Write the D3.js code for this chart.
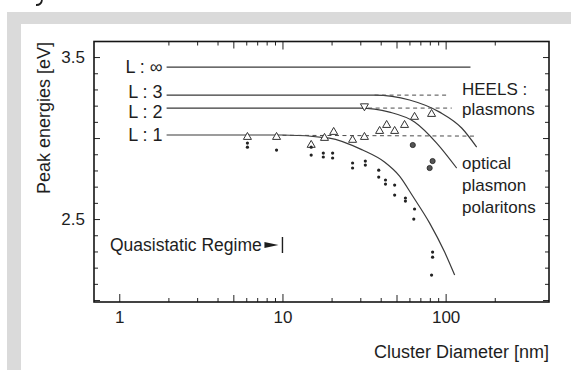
<!DOCTYPE html>
<html>
<head>
<meta charset="utf-8">
<script src="https://cdn.jsdelivr.net/npm/d3@7"></script>
<style>
  html, body { margin: 0; padding: 0; background: #fff; }
  svg { display: block; }
  text { font-family: "Liberation Sans", Arial, Helvetica, sans-serif; fill: #1e1e1e; }
</style>
</head>
<body>
<svg id="chart" width="571" height="370"></svg>
<script>
// ---- data ----
const xTickValues = [1,2,3,4,5,6,7,8,9,10,20,30,40,50,60,70,80,90,100,200];
const xTickLabels = {1: "1", 10: "10", 100: "100"};
const yTickValues = d3.range(20, 36).map(v => v / 10);
const yTickLabels = {2.5: "2.5", 3.5: "3.5"};

const levelLabels = ["L : \u221E", "L : 3", "L : 2", "L : 1"];
const levelEnergies = [3.438, 3.265, 3.185, 3.019];

// dispersion curves: [diameter nm, energy eV]
const curveLinf = [[1.95, 3.438], [142, 3.438]];
const curveL3 = [[1.95, 3.265], [36.7, 3.265], [60.1, 3.235], [91.9, 3.160], [125.4, 3.062], [155, 2.944]];
const curveL2 = [[1.95, 3.185], [29.7, 3.185], [45.3, 3.160], [64.5, 3.099], [88.1, 2.969], [116.8, 2.815]];
const curveL1 = [[1.95, 3.019], [10, 3.019], [19.4, 3.0], [31, 2.926], [42.2, 2.852], [52.2, 2.765], [62.8, 2.642], [79.8, 2.475], [98.6, 2.296], [113.6, 2.154]];

// HEELS plasmon levels (dashed)
const dashL3 = [[36.7, 3.265], [103, 3.265]];
const dashL2 = [[33.5, 3.185], [109, 3.185]];
const dashL1 = [[10, 3.017], [155, 3.012]];

// HEELS peaks (open triangles)
const triD = [6.1, 9.2, 15.0, 18.1, 20.6, 26.9, 31.8, 39.4, 43.5, 48.7, 56.0, 64.5, 82.0];
const triE = [3.006, 3.006, 2.957, 3.0, 3.037, 2.988, 3.006, 3.043, 3.08, 3.043, 3.08, 3.13, 3.148];
const invTriD = [31.8];
const invTriE = [3.197];

// optical peaks (small dots)
const dotD = [6.1, 6.1, 9.2, 15.0, 15.0, 17.8, 17.8, 20.3, 20.3, 26.9, 26.9, 32.2, 32.2, 38.9, 38.9, 42.8, 42.8, 48.7, 48.7, 56.7, 56.7, 64.5, 63.8, 83.2, 83.2, 82.0];
const dotE = [2.969, 2.944, 2.926, 2.944, 2.895, 2.907, 2.883, 2.907, 2.877, 2.846, 2.815, 2.858, 2.833, 2.802, 2.759, 2.741, 2.716, 2.710, 2.648, 2.630, 2.611, 2.562, 2.5, 2.296, 2.265, 2.154];
// optical peaks (larger dots)
const bigDotD = [62.9, 79.8, 83.2];
const bigDotE = [2.957, 2.815, 2.858];

// ---- drawing ----
const svg = d3.select("#chart");

// page frame
svg.append("rect").attr("x", 7).attr("y", 12).attr("width", 564).attr("height", 358).attr("fill", "#dadada");
svg.append("rect").attr("x", 21).attr("y", 24).attr("width", 550).attr("height", 346).attr("fill", "#fff");
// descender of the caption line above the frame
svg.append("path").attr("d", "M42,0 C41.5,3 40,5.2 36,5")
  .attr("fill", "none").attr("stroke", "#1e1e1e").attr("stroke-width", 1.8);

const x = d3.scaleLog().domain([0.7, 430]).range([94, 549]);
const y = d3.scaleLinear().domain([1.988, 3.596]).range([302, 41.5]);
const [x0, x1] = x.range();
const [y0, y1] = y.range();

const lenX = v => (v === 1 || v === 10 || v === 100) ? 8 : (v === 5 || v === 50) ? 7 : 4;
const lenY = v => (Math.abs(v * 10 % 5) < 1e-6) ? 6 : 4;

function styleTicks(g, lenFn, dir) {
  g.select(".domain").remove();
  g.selectAll(".tick line").attr("stroke", "#222").attr("stroke-width", 1)
    .each(function(d) {
      const l = lenFn(d) * dir;
      const ln = d3.select(this);
      if (ln.attr("y2") !== null && +ln.attr("y2") !== 0) ln.attr("y2", l);
      else ln.attr("x2", l);
    });
  g.selectAll(".tick text").attr("font-size", 17).attr("fill", "#1e1e1e");
}

// bottom axis
svg.append("g").attr("transform", `translate(0,${y0})`)
  .call(d3.axisBottom(x).tickValues(xTickValues).tickSize(-4).tickPadding(9)
    .tickFormat(d => xTickLabels[d] || ""))
  .call(g => styleTicks(g, lenX, -1));

// top axis
svg.append("g").attr("transform", `translate(0,${y1})`)
  .call(d3.axisTop(x).tickValues(xTickValues.filter(v => v > 1)).tickSize(-4).tickFormat(""))
  .call(g => styleTicks(g, lenX, 1));

// left axis
svg.append("g").attr("transform", `translate(${x0},0)`)
  .call(d3.axisLeft(y).tickValues(yTickValues).tickSize(-4).tickPadding(9)
    .tickFormat(d => yTickLabels[d] || ""))
  .call(g => styleTicks(g, lenY, 1));

// right axis
svg.append("g").attr("transform", `translate(${x1},0)`)
  .call(d3.axisRight(y).tickValues(yTickValues).tickSize(-4).tickFormat(""))
  .call(g => styleTicks(g, lenY, -1));

// plot frame
svg.append("rect").attr("x", x0).attr("y", y1).attr("width", x1 - x0).attr("height", y0 - y1)
  .attr("fill", "none").attr("stroke", "#151515").attr("stroke-width", 1.6);

const line = d3.line().x(d => x(d[0])).y(d => y(d[1])).curve(d3.curveMonotoneX);

// theory curves
[curveLinf, curveL3, curveL2, curveL1].forEach(c => {
  svg.append("path").attr("d", line(c)).attr("fill", "none")
    .attr("stroke", "#3a3a3a").attr("stroke-width", 1.2);
});

// HEELS levels
[dashL3, dashL2, dashL1].forEach(c => {
  svg.append("path").attr("d", d3.line().x(d => x(d[0])).y(d => y(d[1]))(c))
    .attr("fill", "none").attr("stroke", "#4a4a4a").attr("stroke-width", 1)
    .attr("stroke-dasharray", "4 3.5");
});

// level labels
const labelDy = [0, -3, 4, 0];
levelLabels.forEach((t, i) => {
  svg.append("text").attr("x", x(1.95) - 4).attr("y", y(levelEnergies[i]) + labelDy[i])
    .attr("text-anchor", "end").attr("dominant-baseline", "central")
    .attr("font-size", 18).text(t);
});

// markers
const tri = d3.symbol().type(d3.symbolTriangle).size(28);
svg.append("g").selectAll("path").data(triD).join("path")
  .attr("d", tri)
  .attr("transform", (d, i) => `translate(${x(d)},${y(triE[i])})`)
  .attr("fill", "#fff").attr("stroke", "#333").attr("stroke-width", 1);
svg.append("g").selectAll("path").data(invTriD).join("path")
  .attr("d", tri)
  .attr("transform", (d, i) => `translate(${x(d)},${y(invTriE[i])}) rotate(180)`)
  .attr("fill", "#fff").attr("stroke", "#333").attr("stroke-width", 1);
svg.append("g").selectAll("circle").data(dotD).join("circle")
  .attr("cx", d => x(d)).attr("cy", (d, i) => y(dotE[i])).attr("r", 1.6)
  .attr("fill", "#222");
svg.append("g").selectAll("circle").data(bigDotD).join("circle")
  .attr("cx", d => x(d)).attr("cy", (d, i) => y(bigDotE[i])).attr("r", 2.6)
  .attr("fill", "#555").attr("stroke", "#222").attr("stroke-width", 0.8);

// annotations
const notes = [["HEELS :", 89], ["plasmons", 109], ["optical", 163], ["plasmon", 185], ["polaritons", 207]];
notes.forEach(([t, ty]) => {
  svg.append("text").attr("x", 462).attr("y", ty).attr("dominant-baseline", "central")
    .attr("font-size", 17).text(t);
});

// quasistatic regime marker (ends at 10 nm)
const qy = 245;
svg.append("text").attr("x", 110).attr("y", qy).attr("dominant-baseline", "central").attr("font-size", 17.5).text("Quasistatic Regime");
svg.append("path")
  .attr("d", `M${x(10) - 18},${qy - 3}L${x(10) - 4},${qy}L${x(10) - 18},${qy + 3}Z`)
  .attr("fill", "#1e1e1e");
svg.append("line").attr("x1", x(10)).attr("x2", x(10)).attr("y1", qy - 8).attr("y2", qy + 8)
  .attr("stroke", "#1e1e1e").attr("stroke-width", 1.4);

// axis titles
svg.append("text").attr("transform", `translate(44,118) rotate(-90)`)
  .attr("text-anchor", "middle").attr("dominant-baseline", "central").attr("font-size", 18)
  .text("Peak energies [eV]");
svg.append("text").attr("x", 549).attr("y", 352).attr("text-anchor", "end")
  .attr("dominant-baseline", "central").attr("font-size", 18).text("Cluster Diameter [nm]");
</script>
</body>
</html>
